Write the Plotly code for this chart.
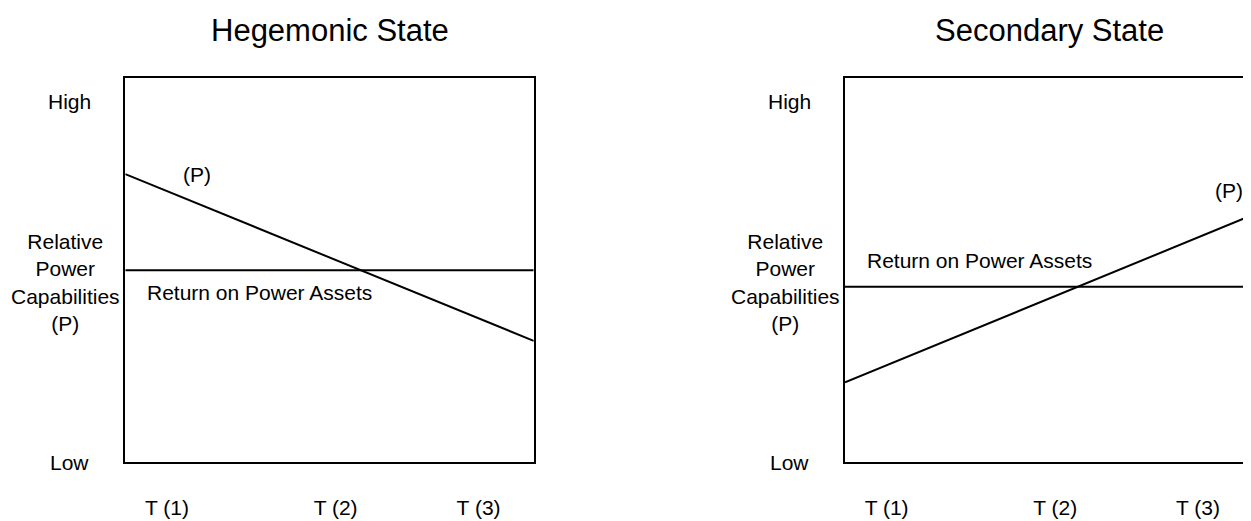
import plotly.graph_objects as go

# ---- data ----
time_labels = ["T (1)", "T (2)", "T (3)"]
time_positions = [10.2, 51.5, 86.5]
x_ends = [0, 100]

hegemonic_power = [75.0, 31.6]
hegemonic_return = [50.0, 50.0]
secondary_power = [20.8, 64.4]
secondary_return = [45.7, 45.7]

level_labels = ["Low", "High"]
level_values = [0, 93.8]
y_axis_label = "Relative<br>Power<br>Capabilities<br>(P)"

FONT = "Liberation Sans, Arial, Helvetica, sans-serif"
OFF = 8  # default page body margin in the written html
W, H = 1251 - OFF, 521 - OFF


def px_x(p):
    return (p - OFF) / W


def px_y(p):
    return (H - (p - OFF)) / H


fig = go.Figure()
line_style = dict(color="black", width=2)
fig.add_trace(go.Scatter(x=x_ends, y=hegemonic_power, mode="lines", line=line_style,
                         xaxis="x", yaxis="y", showlegend=False, hoverinfo="skip"))
fig.add_trace(go.Scatter(x=x_ends, y=hegemonic_return, mode="lines", line=line_style,
                         xaxis="x", yaxis="y", showlegend=False, hoverinfo="skip"))
fig.add_trace(go.Scatter(x=x_ends, y=secondary_power, mode="lines", line=line_style,
                         xaxis="x2", yaxis="y2", showlegend=False, hoverinfo="skip"))
fig.add_trace(go.Scatter(x=x_ends, y=secondary_return, mode="lines", line=line_style,
                         xaxis="x2", yaxis="y2", showlegend=False, hoverinfo="skip"))

ydom = [px_y(462.3), px_y(78)]
xaxis_common = dict(showline=True, linecolor="black", linewidth=2, mirror=True,
                    showgrid=False, zeroline=False, ticks="",
                    tickmode="array", tickvals=time_positions, ticktext=time_labels,
                    ticklabelstandoff=25,
                    tickfont=dict(family=FONT, size=21, color="black"),
                    fixedrange=True)
yaxis_common = dict(showline=True, linecolor="black", linewidth=2,
                    showgrid=False, zeroline=False, showticklabels=False, ticks="",
                    range=[0, 100], domain=ydom, fixedrange=True)

fig.update_layout(
    width=W, height=H,
    margin=dict(l=0, r=0, t=0, b=0),
    paper_bgcolor="white", plot_bgcolor="white",
    font=dict(family=FONT, size=21, color="black"),
    xaxis=dict(**xaxis_common, domain=[px_x(125.3), px_x(533.7)], range=[0, 100], anchor="y"),
    yaxis=dict(**yaxis_common, mirror=True, anchor="x"),
    xaxis2=dict(**xaxis_common, domain=[px_x(845), 1.0], range=[0, 99.5], anchor="y2"),
    yaxis2=dict(**yaxis_common, mirror=False, anchor="x2"),
)

annotations = []
panels = [("x", "y", "Hegemonic State", 0.5), ("x2", "y2", "Secondary State", 0.5 * 408 / 406)]
for xr, yr, title, tx in panels:
    annotations.append(dict(text=title, xref=xr + " domain", yref="paper",
                            x=tx, y=px_y(30),
                            xanchor="center", yanchor="middle", showarrow=False,
                            font=dict(size=31)))
    for lab, val in zip(level_labels, level_values):
        annotations.append(dict(text=lab, xref=xr + " domain", yref=yr, x=0, y=val,
                                xanchor="center", yanchor="middle", xshift=-56,
                                showarrow=False))
    annotations.append(dict(text=y_axis_label, xref=xr + " domain", yref=yr, x=0, y=46.7,
                            xanchor="center", yanchor="middle", xshift=-60,
                            align="center", showarrow=False))

# series labels
annotations += [
    dict(text="(P)", xref="x", yref="y", x=17.6, y=75, xanchor="center", yanchor="middle", showarrow=False),
    dict(text="Return on Power Assets", xref="x", yref="y", x=4.8, y=44.1, xanchor="left", yanchor="middle", showarrow=False),
    dict(text="(P)", xref="x2", yref="y2", x=94.1, y=70.7, xanchor="center", yanchor="middle", showarrow=False),
    dict(text="Return on Power Assets", xref="x2", yref="y2", x=4.9, y=52.5, xanchor="left", yanchor="middle", showarrow=False),
]
fig.update_layout(annotations=annotations)

fig.write_html("out.html")
